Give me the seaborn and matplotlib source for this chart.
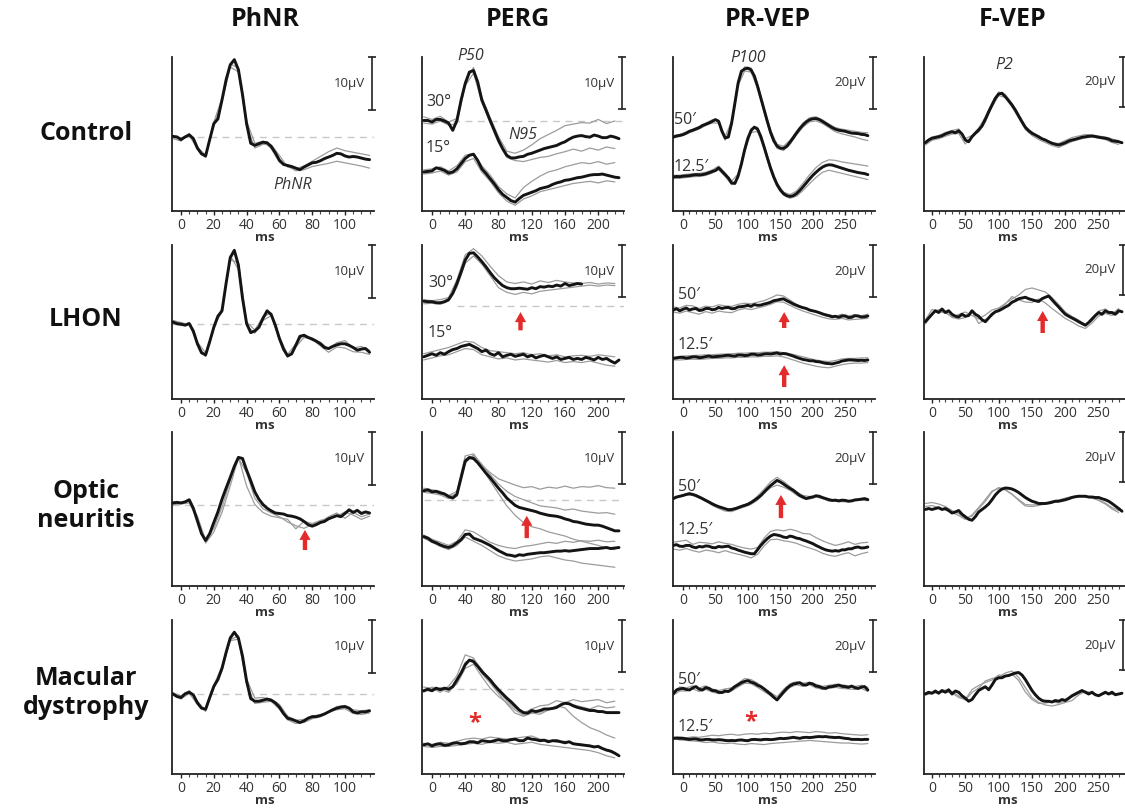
import numpy as np
import matplotlib
matplotlib.use("Agg")
import matplotlib.pyplot as plt
import matplotlib.transforms as mtransforms
import seaborn as sns

sns.set_style("white")
plt.rcParams['font.family'] = ['Open Sans', 'DejaVu Sans']

ROW_LABELS = ["Control", "LHON", "Optic\nneuritis", "Macular\ndystrophy"]
COL_TITLES = ["PhNR", "PERG", "PR-VEP", "F-VEP"]

# ---------------- time grids (ms) ----------------
T_PHNR = np.arange(-5, 115.01, 2.5)     # 49
T_PHNR_G = np.arange(-5, 115.01, 5)     # 25
T_PERG = np.arange(-10, 225.01, 5)      # 48
T_PERG_G = np.arange(-10, 220.01, 10)   # 24
T_PRVEP = np.arange(-15, 285.01, 5)     # 61
T_PRVEP_G = np.arange(-15, 285.01, 10)  # 31
T_FVEP = np.arange(-10, 285.01, 5)      # 60
T_FVEP_G = np.arange(-10, 280.01, 10)   # 30

# ---------------- PhNR (µV) ----------------
PHNR_CONTROL = [0.1, 0.0, -0.5, 0.0, 0.4, -0.3, -2.1, -3.2, -3.6, -0.5,
                2.5, 3.4, 7.0, 10.8, 13.6, 14.6, 12.7, 8.0, 2.5, -1.2,
                -1.6, -1.3, -1.0, -1.1, -1.8, -3.0, -4.4, -5.2, -5.4, -5.6,
                -5.9, -6.2, -5.7, -5.3, -4.9, -4.8, -4.5, -4.1, -3.8, -3.5,
                -3.1, -3.2, -3.6, -3.8, -3.7, -3.8, -4.0, -4.2, -4.3]
PHNR_CONTROL_G1 = [-0.3, -0.8, 0.6, -2.4, -3.9, 2.8, 7.3, 13.8, 13.0, 2.0,
                   -2.1, -1.4, -1.5, -3.5, -5.7, -6.0, -5.5, -4.6, -3.7, -2.8,
                   -2.1, -2.6, -2.9, -3.2, -3.5]
PHNR_CONTROL_G2 = [-0.1, -0.2, 0.2, -2.0, -3.4, 2.2, 6.6, 13.2, 12.3, 3.0,
                   -1.2, -0.8, -2.2, -4.8, -5.5, -6.4, -6.2, -5.6, -5.3, -5.0,
                   -4.6, -4.9, -5.2, -5.5, -5.9]

PHNR_LHON = [0.3, 0.0, -0.1, -0.3, 0.0, -1.4, -3.8, -5.5, -5.9, -3.4,
             -0.7, 1.4, 2.4, 7.6, 12.4, 13.8, 11.0, 4.8, 0.0, -1.7,
             -1.4, -0.7, 1.0, 2.4, 1.7, -0.3, -2.8, -4.8, -6.1, -5.7,
             -4.1, -2.4, -2.2, -2.6, -2.9, -3.3, -3.8, -4.5, -4.7, -4.3,
             -4.0, -3.8, -3.8, -4.1, -4.5, -5.0, -4.8, -4.7, -5.4]
PHNR_LHON_G1 = [0.6, 0.2, -0.2, -3.5, -5.5, -1.0, 3.0, 12.0, 11.5, 0.3,
                -1.2, 1.3, 2.0, -2.5, -5.8, -3.8, -2.0, -3.2, -3.5, -4.8,
                -3.6, -3.2, -4.6, -4.3, -5.0]
PHNR_LHON_G2 = [0.0, -0.4, 0.2, -4.0, -6.2, -0.5, 2.2, 12.8, 10.2, -0.3,
                -1.8, 0.6, 1.5, -3.0, -6.3, -4.4, -2.6, -3.0, -4.2, -5.4,
                -4.4, -4.6, -5.3, -5.4, -5.8]

PHNR_ON = [0.3, 0.4, 0.3, 0.5, 0.9, -0.7, -3.1, -5.5, -6.8, -5.5,
           -3.4, -1.4, 1.0, 3.1, 5.1, 7.2, 8.9, 8.7, 6.5, 4.5,
           2.4, 1.0, 0.0, -0.7, -1.2, -1.6, -1.7, -1.8, -2.1, -2.2,
           -2.4, -2.7, -3.2, -3.8, -4.1, -3.8, -3.4, -3.2, -2.7, -2.4,
           -2.1, -2.3, -1.7, -1.0, -1.5, -1.1, -1.7, -1.4, -1.6]
PHNR_ON_G1 = [0.5, 0.2, 0.6, -2.2, -6.8, -4.5, -0.5, 4.5, 9.0, 3.5,
              0.0, -1.5, -2.2, -2.5, -2.8, -4.6, -3.2, -3.6, -3.0, -2.6,
              -2.2, -1.4, -2.0, -2.8, -2.2]
PHNR_ON_G2 = [0.0, 0.1, 0.3, -2.8, -7.3, -5.2, -1.5, 3.5, 8.8, 6.0,
              1.2, -0.8, -1.6, -2.3, -3.3, -4.0, -4.5, -3.8, -3.3, -2.3,
              -1.6, -2.6, -1.5, -2.3, -1.8]

PHNR_MAC = [0.0, -0.5, -0.7, 0.0, 0.3, -0.2, -1.7, -2.7, -2.9, -0.7,
            1.4, 2.7, 4.8, 7.8, 10.5, 11.6, 10.5, 7.1, 2.4, -0.9,
            -1.4, -1.4, -1.2, -1.0, -1.2, -1.7, -2.5, -3.7, -4.6, -4.8,
            -5.1, -5.4, -5.1, -4.6, -4.3, -4.3, -4.1, -3.8, -3.4, -3.0,
            -2.7, -2.5, -2.4, -2.7, -3.4, -3.6, -3.4, -3.4, -3.2]
PHNR_MAC_G1 = [0.2, -0.4, 0.6, -1.4, -3.2, 1.0, 4.4, 10.2, 10.9, 2.8,
               -0.8, -0.7, -1.0, -2.0, -4.2, -5.0, -4.8, -4.2, -3.9, -3.4,
               -2.4, -2.2, -3.0, -3.2, -3.0]
PHNR_MAC_G2 = [-0.2, -1.0, 0.1, -2.0, -3.3, 1.6, 5.2, 10.0, 10.3, 1.8,
               -1.8, -1.6, -1.4, -2.9, -4.9, -5.6, -5.4, -4.7, -4.3, -3.5,
               -3.0, -2.8, -3.7, -3.9, -3.6]

# ---------------- PERG (µV) ----------------
PERG_CONTROL_30 = [0.1, 0.1, -0.2, 0.3, 0.3, 0.0, -0.4, -1.8, 0.1, 4.0,
                   7.2, 9.4, 9.7, 7.5, 4.0, 2.1, 0.1, -1.8, -3.7, -5.3,
                   -6.6, -7.1, -7.1, -6.9, -6.8, -6.4, -6.2, -5.9, -5.6, -5.3,
                   -5.1, -4.9, -4.7, -4.3, -4.0, -3.5, -3.1, -2.9, -2.8, -3.0,
                   -3.1, -2.7, -2.9, -3.2, -3.2, -2.9, -3.1, -3.4]
PERG_CONTROL_30_G1 = [0.8, 0.3, 0.9, -0.2, 0.5, 7.6, 10.3, 4.6, 0.6, -3.0,
                      -5.8, -6.2, -5.6, -4.6, -3.4, -2.6, -1.8, -0.9, -0.6, -0.3,
                      -0.4, 0.3, -0.5, 0.0]
PERG_CONTROL_30_G2 = [-0.4, -0.6, 0.0, -0.8, -0.5, 6.8, 9.2, 3.6, -0.4, -4.2,
                      -7.0, -7.6, -7.8, -7.4, -7.0, -6.8, -6.3, -5.9, -5.4, -5.8,
                      -5.2, -5.6, -5.0, -5.3]
PERG_CONTROL_15 = [-9.8, -9.7, -9.6, -9.0, -9.2, -9.5, -10.0, -9.8, -9.2, -8.2,
                   -7.2, -6.6, -6.4, -7.6, -9.2, -10.1, -11.1, -12.1, -13.2, -14.1,
                   -14.7, -15.3, -15.6, -14.9, -14.3, -14.0, -13.7, -13.4, -13.0, -12.8,
                   -12.6, -12.2, -11.9, -11.7, -11.4, -11.3, -11.1, -10.9, -10.8, -10.6,
                   -10.4, -10.3, -10.3, -10.2, -10.4, -10.6, -10.8, -10.9]
PERG_CONTROL_15_G1 = [-9.4, -9.2, -8.8, -9.6, -8.6, -6.6, -6.2, -8.6, -10.4, -12.6,
                      -14.0, -14.8, -12.8, -11.6, -10.6, -9.8, -9.4, -8.8, -8.4, -8.0,
                      -8.2, -7.8, -8.3, -8.0]
PERG_CONTROL_15_G2 = [-10.2, -10.0, -9.6, -10.4, -9.8, -7.8, -7.2, -9.8, -11.6, -13.8,
                      -15.4, -16.2, -15.0, -14.4, -13.6, -13.2, -12.8, -12.4, -12.0, -11.8,
                      -11.6, -11.9, -11.5, -11.7]

NAN = float("nan")
PERG_LHON_30 = [0.9, 0.8, 0.8, 0.6, 0.6, 0.8, 1.2, 2.4, 4.3, 6.5,
                8.8, 10.1, 10.2, 9.4, 8.5, 7.5, 6.4, 5.4, 4.6, 3.9,
                3.5, 3.3, 3.3, 3.4, 3.3, 3.2, 3.5, 3.3, 3.7, 3.6,
                3.8, 3.7, 4.0, 3.8, 4.3, 3.9, 4.1, 4.3, 4.2, NAN,
                NAN, NAN, NAN, NAN, NAN, NAN, NAN, NAN]
PERG_LHON_30_G1 = [1.2, 1.0, 1.2, 1.6, 5.0, 9.8, 11.0, 9.6, 7.6, 5.8,
                   4.6, 4.3, 4.6, 4.2, 4.8, 4.5, 4.9, 4.6, 4.4, 4.3,
                   4.5, 4.2, 4.4, 4.3]
PERG_LHON_30_G2 = [0.4, 0.5, 0.3, 0.9, 3.6, 8.2, 9.6, 8.0, 5.8, 3.5,
                   2.6, 2.2, 2.6, 2.3, 2.8, 3.0, 3.2, 3.4, 3.6, 3.8,
                   4.0, 3.8, 4.0, 3.9]
PERG_LHON_15 = [-9.8, -9.5, -9.2, -9.5, -9.0, -9.3, -8.8, -8.4, -8.2, -7.8,
                -7.6, -7.4, -7.8, -8.2, -8.8, -8.5, -9.2, -9.5, -9.0, -9.8,
                -9.5, -9.3, -9.7, -9.5, -9.3, -9.8, -9.5, -10.0, -9.7, -9.5,
                -9.8, -10.1, -9.8, -10.3, -10.1, -9.9, -10.3, -10.1, -10.3, -9.9,
                -10.1, -10.4, -9.9, -10.3, -10.1, -10.6, -11.0, -10.4]
PERG_LHON_15_G1 = [-9.2, -8.8, -8.4, -8.0, -7.4, -6.8, -7.0, -8.0, -8.6, -8.8,
                   -9.0, -9.2, -9.0, -9.4, -9.2, -9.6, -9.4, -9.8, -9.6, -9.5,
                   -9.7, -9.4, -9.6, -9.8]
PERG_LHON_15_G2 = [-10.4, -10.0, -9.6, -9.4, -8.8, -8.2, -8.4, -9.4, -9.8, -10.2,
                   -10.0, -10.4, -10.2, -10.4, -10.6, -10.8, -10.5, -10.9, -10.7, -10.9,
                   -10.6, -11.0, -11.4, -11.6]

PERG_ON_UP = [1.7, 1.9, 1.5, 1.6, 1.3, 1.1, 0.6, 0.3, 1.0, 4.2,
              7.4, 8.1, 7.9, 7.1, 6.1, 5.1, 4.2, 3.2, 2.2, 1.3,
              0.3, -0.4, -1.1, -1.5, -1.7, -1.9, -2.1, -2.3, -2.6, -2.8,
              -3.0, -3.1, -3.2, -3.4, -3.7, -3.9, -4.2, -4.3, -4.5, -4.7,
              -4.8, -4.9, -4.9, -5.1, -5.4, -5.7, -6.0, -6.0]
PERG_ON_UP_G1 = [2.2, 1.9, 1.6, 0.8, 1.6, 8.4, 8.8, 6.6, 5.2, 4.0,
                 3.4, 2.8, 2.3, 2.5, 2.0, 2.4, 2.2, 2.6, 2.2, 2.5,
                 2.4, 2.7, 2.3, 2.2]
PERG_ON_UP_G2 = [1.4, 1.2, 0.9, 0.2, 0.6, 7.8, 8.4, 6.0, 3.6, 1.2,
                 -1.2, -3.0, -4.4, -5.2, -5.6, -6.2, -6.6, -7.0, -7.6, -8.0,
                 -8.4, -8.8, -9.3, -9.6]
PERG_ON_UP_G3 = [1.8, 1.4, 1.2, 0.5, 1.2, 7.0, 8.6, 6.8, 4.8, 3.0,
                 1.6, 0.6, 0.0, -0.6, -1.2, -1.4, -1.6, -2.0, -1.8, -2.2,
                 -2.4, -2.6, -2.5, -2.8]
PERG_ON_LOW = [-7.1, -7.4, -8.0, -8.3, -8.7, -9.0, -9.2, -8.9, -8.3, -7.7,
               -6.7, -6.6, -7.4, -7.7, -8.0, -8.4, -8.8, -9.3, -9.8, -10.2,
               -10.6, -10.7, -10.9, -10.6, -10.7, -10.5, -10.4, -10.3, -10.2, -10.2,
               -10.1, -10.0, -9.9, -9.9, -9.8, -9.9, -9.8, -9.7, -9.6, -9.5,
               -9.4, -9.4, -9.4, -9.3, -9.2, -9.4, -9.3, -9.2]
PERG_ON_LOW_G1 = [-6.8, -7.6, -8.2, -8.8, -8.0, -5.8, -6.2, -7.2, -8.2, -8.8,
                  -9.2, -9.4, -9.0, -8.8, -8.5, -8.2, -8.4, -8.0, -8.2, -7.9,
                  -8.0, -7.8, -8.1, -8.0]
PERG_ON_LOW_G2 = [-7.4, -8.2, -9.0, -9.6, -8.8, -7.2, -8.0, -8.8, -9.8, -10.8,
                  -11.4, -11.8, -11.6, -11.4, -11.0, -10.8, -11.2, -11.6, -11.8, -12.2,
                  -12.4, -12.6, -12.8, -13.0]

PERG_MAC_UP = [-0.3, 0.0, -0.3, 0.2, -0.1, 0.2, 0.0, 0.5, 1.8, 3.1,
               4.7, 5.6, 5.3, 4.4, 3.4, 2.6, 1.8, 0.8, -0.1, -0.9,
               -1.7, -2.4, -3.2, -4.0, -4.5, -4.6, -4.1, -4.3, -4.1, -3.8,
               -3.8, -3.7, -3.5, -3.0, -2.7, -2.8, -3.2, -3.5, -3.7, -3.9,
               -4.1, -4.1, -4.3, -4.3, -4.5, -4.5, -4.5, -4.5]
PERG_MAC_UP_G1 = [0.4, 0.2, -0.6, 0.6, 2.6, 6.6, 6.0, 3.0, 1.2, -0.8,
                  -2.8, -4.6, -5.2, -4.6, -4.8, -4.0, -3.2, -3.6, -5.2, -6.4,
                  -7.4, -8.0, -8.8, -9.4]
PERG_MAC_UP_G2 = [-0.6, 0.4, 0.0, -0.6, 1.2, 5.2, 5.8, 3.8, 1.4, -0.4,
                  -2.2, -3.6, -4.6, -3.8, -3.2, -3.0, -2.2, -2.6, -2.0, -2.4,
                  -2.2, -2.0, -2.6, -2.3]
PERG_MAC_UP_G3 = [-0.2, -0.4, 0.3, -0.2, 1.0, 4.0, 4.8, 2.4, 0.2, -1.4,
                  -2.6, -4.0, -5.0, -4.4, -4.4, -4.0, -3.4, -2.6, -3.0, -3.4,
                  -3.8, -3.2, -3.6, -3.4]
PERG_MAC_LOW = [-10.7, -10.5, -10.9, -10.6, -10.5, -10.8, -10.7, -10.4, -10.3, -10.5,
                -10.4, -10.1, -10.1, -10.3, -9.9, -10.0, -10.1, -9.9, -9.7, -9.9,
                -9.9, -9.7, -9.6, -9.9, -9.9, -9.4, -9.6, -9.7, -9.9, -9.8,
                -10.1, -9.9, -9.9, -10.1, -10.3, -10.1, -10.5, -10.6, -10.7, -10.8,
                -10.9, -11.1, -11.0, -11.4, -11.7, -11.9, -12.3, -12.8]
PERG_MAC_LOW_G1 = [-10.4, -10.6, -10.2, -10.4, -10.0, -9.6, -9.4, -9.6, -9.2, -9.4,
                   -9.6, -9.4, -9.2, -9.0, -9.6, -9.8, -10.2, -10.0, -10.4, -10.6,
                   -10.8, -11.2, -11.8, -12.4]
PERG_MAC_LOW_G2 = [-11.0, -11.2, -11.0, -11.0, -10.8, -10.6, -10.4, -10.6, -10.2, -10.4,
                   -10.2, -10.6, -10.4, -10.2, -10.6, -10.8, -11.0, -11.2, -11.4, -11.6,
                   -11.8, -12.2, -12.8, -13.2]

# ---------------- PR-VEP (µV) ----------------
PRVEP_CONTROL_50 = [0.0, 0.4, 0.6, 0.9, 1.5, 2.2, 2.6, 3.1, 3.6, 4.4,
                    4.9, 5.4, 6.0, 6.7, 6.0, 2.2, -0.4, 0.0, 5.4, 13.0,
                    20.8, 25.3, 26.2, 26.5, 25.8, 23.5, 19.5, 15.0, 10.5, 6.0,
                    1.8, -1.5, -3.5, -4.3, -4.4, -3.6, -2.0, -0.3, 1.5, 3.2,
                    4.6, 5.8, 6.6, 7.0, 7.1, 6.7, 6.0, 5.2, 4.4, 3.6,
                    3.0, 2.6, 2.4, 2.2, 1.8, 1.5, 1.4, 1.3, 1.0, 0.9,
                    0.5]
PRVEP_CONTROL_50_G1 = [0.4, 1.0, 1.9, 3.0, 4.1, 5.3, 6.6, 6.5, 0.2, 6.0,
                       21.6, 27.0, 26.6, 20.4, 11.4, 2.6, -2.8, -3.6, -1.2, 2.2,
                       5.4, 7.4, 7.8, 6.6, 5.0, 3.6, 3.0, 2.6, 2.2, 1.8,
                       1.6]
PRVEP_CONTROL_50_G2 = [-0.4, 0.2, 1.1, 2.1, 3.1, 4.4, 5.4, 5.3, -1.2, 4.6,
                       19.8, 25.4, 25.0, 18.6, 9.6, 1.0, -4.4, -5.2, -2.8, 0.8,
                       3.8, 5.8, 6.2, 5.2, 3.6, 2.0, 1.2, 0.6, 0.0, -0.8,
                       -1.4]
PRVEP_CONTROL_12 = [-15.4, -15.2, -15.3, -15.1, -15.0, -14.9, -14.7, -14.5, -14.6, -14.5,
                    -14.2, -13.8, -13.3, -12.9, -11.9, -13.2, -14.5, -15.8, -17.7, -17.9,
                    -15.0, -10.5, -5.0, -0.5, 2.5, 3.8, 3.0, 0.2, -3.8, -8.0,
                    -12.0, -15.5, -18.3, -20.4, -21.8, -22.6, -22.9, -22.6, -21.8, -20.6,
                    -19.2, -17.7, -16.2, -14.8, -13.6, -12.5, -11.6, -11.0, -10.7, -10.8,
                    -11.2, -11.6, -12.0, -12.4, -12.8, -13.1, -13.4, -13.7, -13.9, -14.1,
                    -14.5]
PRVEP_CONTROL_12_G1 = [-14.8, -14.7, -14.4, -14.1, -14.0, -13.6, -12.7, -11.2, -13.8, -17.0,
                       -14.2, -4.2, 3.3, 3.8, -3.0, -11.2, -17.6, -21.2, -22.2, -20.8,
                       -17.8, -14.6, -11.8, -9.8, -8.8, -9.0, -9.6, -10.0, -10.4, -10.8,
                       -11.2]
PRVEP_CONTROL_12_G2 = [-16.0, -15.9, -15.6, -15.3, -15.2, -14.8, -13.9, -12.6, -15.2, -18.4,
                       -15.8, -5.8, 1.7, 2.2, -4.6, -12.8, -19.0, -22.4, -23.6, -22.8,
                       -20.6, -18.0, -15.6, -13.6, -12.8, -13.4, -14.0, -14.6, -15.2, -15.8,
                       -16.4]

PRVEP_LHON_50 = [0.0, 0.5, -0.3, 0.3, 0.8, 0.0, 0.4, 0.6, -0.2, 0.0,
                 0.6, 0.6, 0.1, 0.3, 1.0, 0.6, 0.9, 1.0, 0.5, 0.6,
                 1.2, 1.3, 1.5, 1.8, 1.4, 2.1, 1.8, 1.9, 2.3, 2.6,
                 3.0, 3.6, 3.8, 4.1, 4.3, 3.6, 3.0, 2.3, 1.8, 1.3,
                 0.9, 0.6, 0.0, -0.3, -0.6, -1.0, -1.5, -1.9, -2.2, -2.6,
                 -2.4, -2.8, -2.3, -2.3, -2.9, -2.8, -2.2, -2.3, -2.7, -2.6,
                 -2.3]
PRVEP_LHON_50_G1 = [1.2, 0.8, 1.8, 1.6, 0.6, 1.5, 1.2, 2.0, 1.6, 1.4,
                    2.2, 2.6, 2.4, 3.0, 3.6, 4.6, 5.8, 5.4, 3.8, 2.2,
                    1.0, 0.2, -0.6, -1.2, -1.8, -2.4, -1.6, -2.2, -1.8, -2.2,
                    -1.6]
PRVEP_LHON_50_G2 = [-0.8, -1.2, -0.4, -1.0, -1.6, -0.6, -1.2, -0.4, -0.8, -1.0,
                    0.0, 0.6, 0.2, 0.8, 1.4, 2.2, 3.2, 3.0, 1.8, 0.6,
                    -0.4, -1.2, -2.0, -2.8, -3.4, -3.6, -3.2, -3.8, -3.6, -3.4,
                    -3.2]
PRVEP_LHON_12 = [-18.6, -18.4, -18.2, -18.2, -18.5, -18.3, -18.0, -18.0, -18.3, -18.2,
                 -17.9, -17.7, -18.0, -17.9, -17.8, -17.7, -17.5, -17.4, -17.6, -17.7,
                 -17.3, -17.3, -17.5, -17.4, -17.0, -17.0, -17.3, -17.2, -16.9, -16.8,
                 -16.9, -16.7, -16.5, -16.9, -16.7, -16.9, -17.3, -17.7, -18.2, -18.6,
                 -19.0, -19.2, -19.5, -19.5, -19.8, -19.9, -20.2, -20.5, -20.6, -20.7,
                 -20.4, -20.1, -19.6, -19.4, -19.2, -19.2, -19.3, -19.4, -19.3, -19.4,
                 -19.2]
PRVEP_LHON_12_G1 = [-18.2, -17.8, -17.6, -17.5, -17.4, -17.2, -17.2, -17.0, -16.9, -16.8,
                    -16.6, -16.6, -16.4, -16.4, -16.2, -16.2, -16.0, -16.4, -16.8, -17.4,
                    -18.0, -18.6, -19.2, -19.6, -19.8, -19.4, -18.8, -18.6, -18.6, -18.4,
                    -18.4]
PRVEP_LHON_12_G2 = [-19.2, -19.2, -19.0, -18.9, -19.0, -18.8, -18.6, -18.6, -18.4, -18.4,
                    -18.2, -18.2, -18.0, -18.0, -17.8, -17.8, -17.6, -18.0, -18.8, -19.6,
                    -20.4, -21.0, -21.6, -22.0, -22.2, -21.6, -21.0, -20.6, -20.4, -20.4,
                    -20.2]

PRVEP_ON_50 = [-0.6, 0.0, 0.3, 0.6, 1.0, 1.3, 1.0, 0.6, 0.0, -0.6,
               -1.3, -1.9, -2.6, -3.2, -3.7, -4.1, -4.5, -4.9, -4.8, -4.5,
               -4.1, -3.6, -3.2, -2.8, -2.1, -1.3, -0.4, 0.6, 1.9, 3.2,
               4.4, 5.4, 6.4, 5.8, 5.0, 4.1, 3.3, 2.6, 1.6, 0.6,
               0.0, -0.6, -0.2, 0.0, 0.5, 0.3, -0.2, -0.6, -1.0, -1.3,
               -1.2, -1.5, -1.2, -1.3, -1.6, -1.5, -1.1, -1.0, -0.8, -0.6,
               -1.0]
PRVEP_ON_50_G1 = [-0.4, 0.4, 1.2, 1.0, 0.2, -1.0, -2.4, -3.6, -4.4, -4.6,
                  -3.8, -3.0, -1.8, 0.4, 3.0, 5.8, 7.6, 6.0, 4.0, 2.0,
                  0.6, 0.2, 0.4, -0.2, -1.0, -1.0, -1.2, -1.4, -1.0, -0.8,
                  -0.8]
PRVEP_ON_50_G2 = [-0.8, 0.1, 0.8, 0.6, -0.4, -1.6, -3.2, -4.4, -5.4, -5.6,
                  -4.6, -3.8, -2.8, -1.2, 1.4, 3.6, 4.6, 3.8, 2.6, 0.8,
                  -0.6, -0.8, 0.0, -0.6, -1.6, -1.6, -1.8, -1.8, -1.4, -1.2,
                  -1.4]
PRVEP_ON_12 = [-18.6, -18.3, -18.9, -19.0, -18.6, -18.6, -19.2, -19.5, -19.0, -19.2,
               -18.8, -18.9, -19.4, -19.5, -19.0, -19.2, -19.0, -18.9, -19.6, -19.9,
               -20.4, -20.8, -21.2, -21.5, -21.8, -21.8, -20.2, -18.6, -17.2, -16.0,
               -15.0, -14.4, -14.6, -14.9, -15.4, -15.6, -15.0, -15.3, -15.8, -16.0,
               -16.5, -16.9, -17.4, -17.9, -18.6, -19.2, -19.8, -20.3, -20.6, -20.8,
               -20.6, -20.8, -20.3, -20.3, -19.9, -19.9, -19.4, -19.2, -19.6, -19.5,
               -19.2]
PRVEP_ON_12_G1 = [-17.4, -17.0, -16.6, -18.2, -17.4, -17.6, -18.0, -17.2, -17.8, -18.2,
                  -19.0, -19.6, -20.0, -19.4, -15.8, -13.2, -12.6, -13.0, -12.4, -13.0,
                  -14.0, -14.2, -15.6, -16.8, -17.8, -18.6, -18.0, -17.2, -18.2, -17.6,
                  -17.4]
PRVEP_ON_12_G2 = [-20.0, -20.4, -19.8, -20.6, -21.2, -20.4, -20.8, -21.4, -20.6, -21.4,
                  -22.0, -22.6, -23.4, -22.0, -18.8, -16.4, -16.2, -16.8, -17.2, -17.8,
                  -18.8, -19.6, -20.4, -21.6, -22.4, -22.8, -22.0, -21.4, -22.6, -21.8,
                  -21.2]

PRVEP_MAC_50 = [-1.5, 0.0, 0.4, 0.6, 0.2, 0.0, 0.8, 1.3, 0.3, 0.0,
                0.9, 0.6, -0.2, -0.3, -0.9, -1.0, -0.4, -0.6, 0.3, 1.3,
                2.0, 2.8, 3.3, 3.6, 3.0, 2.6, 1.8, 1.3, 0.4, -0.6,
                -1.6, -2.8, -3.8, -2.3, -0.8, 0.6, 1.6, 2.3, 2.5, 2.8,
                2.0, 1.9, 2.6, 2.3, 1.5, 1.3, 0.8, 0.6, 1.2, 1.3,
                1.6, 1.9, 1.4, 1.3, 1.0, 1.5, 0.9, 0.6, 1.1, 1.3,
                0.0]
PRVEP_MAC_50_G1 = [-0.8, 1.2, 0.8, 1.6, 0.8, 1.6, 0.4, -0.2, 0.4, 0.8,
                   2.6, 4.4, 4.0, 2.6, 0.8, -1.0, -2.6, 0.2, 2.4, 3.2,
                   2.6, 3.0, 2.2, 1.4, 1.8, 2.2, 2.0, 1.6, 1.4, 1.8,
                   1.0]
PRVEP_MAC_50_G2 = [-2.0, -0.4, -0.4, 0.4, -0.6, 0.2, -0.8, -1.4, -1.0, -0.4,
                   1.2, 2.6, 2.4, 1.0, -0.6, -2.2, -4.2, -1.4, 1.0, 2.0,
                   1.4, 2.0, 0.8, 0.2, 0.6, 1.0, 0.6, 0.4, 0.2, 0.6,
                   -0.6]
PRVEP_MAC_12 = [-18.6, -18.5, -18.6, -18.6, -18.8, -19.0, -18.8, -18.8, -19.1, -19.2,
                -19.0, -19.0, -19.2, -19.2, -19.1, -19.2, -19.4, -19.5, -19.4, -19.5,
                -19.3, -19.2, -19.4, -19.5, -19.1, -19.0, -19.1, -19.2, -19.0, -19.0,
                -19.1, -19.0, -18.8, -18.6, -18.7, -18.6, -18.4, -18.2, -18.4, -18.6,
                -18.3, -18.2, -18.3, -18.2, -18.0, -17.9, -18.0, -17.9, -18.1, -18.2,
                -18.3, -18.2, -18.4, -18.6, -18.7, -19.0, -19.0, -19.0, -19.1, -19.0,
                -19.0]
PRVEP_MAC_12_G1 = [-18.2, -18.0, -18.4, -18.0, -18.2, -17.8, -17.4, -17.6, -17.2, -17.0,
                   -17.4, -17.0, -16.8, -17.0, -16.6, -16.8, -16.4, -16.2, -16.4, -16.0,
                   -16.2, -16.4, -16.0, -16.2, -16.6, -16.4, -16.8, -17.0, -17.2, -17.4,
                   -17.2]
PRVEP_MAC_12_G2 = [-18.8, -19.2, -19.4, -19.6, -19.8, -20.2, -20.0, -20.4, -20.6, -20.4,
                   -20.8, -21.0, -20.6, -20.8, -21.0, -20.6, -20.4, -20.2, -20.0, -19.8,
                   -19.6, -19.4, -19.6, -19.8, -20.0, -20.2, -20.4, -20.4, -20.6, -20.8,
                   -20.6]

# ---------------- F-VEP (µV) ----------------
FVEP_CONTROL = [-0.7, 0.4, 1.1, 1.4, 1.7, 2.1, 2.8, 3.3, 3.7, 3.3,
                4.1, 2.8, 0.4, -0.3, 1.7, 3.1, 4.4, 6.0, 8.7, 11.7,
                14.4, 17.1, 18.8, 19.1, 17.7, 16.1, 14.4, 12.4, 10.0, 7.7,
                5.5, 4.1, 3.1, 2.4, 1.7, 0.9, 0.4, -0.3, -0.9, -1.3,
                -1.6, -1.2, -0.7, 0.0, 0.4, 0.7, 1.1, 1.5, 1.7, 1.9,
                2.0, 1.8, 1.5, 1.3, 1.1, 0.8, 0.1, -0.1, -0.3, -0.7]
FVEP_CONTROL_G1 = [-1.6, 0.3, 0.9, 1.9, 2.8, 3.0, -1.2, 2.2, 3.6, 7.6,
                   13.6, 18.2, 17.4, 13.6, 9.2, 4.6, 2.2, 0.6, -0.6, -1.8,
                   -2.6, -1.4, -0.2, 0.6, 1.2, 1.6, 1.2, 0.6, -0.6, -1.4]
FVEP_CONTROL_G2 = [-0.2, 1.6, 2.2, 3.4, 4.2, 4.8, 1.0, 2.2, 5.2, 9.6,
                   15.2, 19.6, 18.6, 15.0, 10.6, 5.8, 3.6, 1.2, 0.2, -0.8,
                   -1.0, 0.2, 1.4, 2.0, 2.6, 2.4, 2.0, 1.6, 0.8, 0.2]

FVEP_LHON = [-1.5, 0.0, 1.5, 2.9, 2.2, 3.6, 2.2, 2.9, 1.5, 0.7,
             0.4, 1.5, 0.7, 1.0, 2.9, 1.5, 0.7, -0.7, -1.5, 0.0,
             1.5, 2.5, 2.9, 3.6, 4.4, 5.1, 6.3, 6.9, 7.7, 8.0,
             8.3, 7.7, 7.3, 6.9, 6.6, 7.7, 8.3, 8.8, 7.3, 5.8,
             4.4, 2.9, 1.5, 0.7, 0.0, -0.7, -1.5, -2.2, -2.9, -1.8,
             -0.4, 1.0, 2.2, 1.5, 2.9, 2.2, 2.2, 1.5, 2.9, 2.5]
FVEP_LHON_G1 = [-0.8, 3.4, 2.6, 2.0, 0.6, 1.4, 2.4, 1.0, -0.4, 1.2,
                3.2, 4.0, 5.8, 7.6, 9.2, 11.4, 12.0, 11.2, 10.4, 8.2,
                5.4, 2.4, 0.6, -0.8, -2.6, -1.2, 2.8, 3.6, 1.6, 3.8]
FVEP_LHON_G2 = [-2.4, 1.8, 3.4, 2.6, 0.2, -0.4, 0.2, 2.6, -2.2, -0.6,
                0.8, 3.6, 5.6, 8.6, 7.2, 6.4, 6.2, 7.6, 6.0, 3.8,
                1.8, -0.2, -1.6, -3.2, -4.2, -2.0, 0.8, 1.8, 1.0, 2.0]

FVEP_ON = [0.0, 0.4, 0.0, 0.4, 0.7, 0.0, 0.4, -0.4, -1.4, -1.0,
           -0.4, -1.9, -2.9, -3.9, -4.3, -2.9, -1.0, 0.0, 1.0, 2.2,
           3.9, 5.8, 7.2, 8.2, 8.6, 8.5, 8.2, 7.6, 6.8, 5.8,
           4.8, 4.0, 3.3, 2.9, 2.4, 2.4, 2.4, 2.6, 2.9, 3.3,
           3.3, 3.6, 3.9, 4.3, 4.8, 5.1, 5.3, 5.3, 5.3, 5.0,
           5.0, 4.8, 4.8, 4.3, 3.9, 3.3, 2.4, 1.4, 0.4, -0.7]
FVEP_ON_G1 = [2.4, 2.8, 2.2, 1.2, -0.4, -1.6, -3.6, -2.6, 0.4, 3.2,
              7.0, 8.8, 8.0, 6.2, 3.6, 1.4, 1.2, 1.6, 2.2, 2.8,
              3.2, 4.0, 4.8, 5.2, 5.0, 4.6, 3.6, 2.2, 0.2, -1.2]
FVEP_ON_G2 = [1.2, 1.6, 0.8, -0.2, -1.2, -2.4, -4.0, -2.2, 0.8, 4.0,
              7.4, 8.4, 7.8, 6.0, 4.0, 2.0, 1.8, 2.0, 2.6, 3.4,
              3.8, 4.6, 5.2, 5.6, 5.4, 4.8, 3.8, 2.6, 0.8, -0.4]

FVEP_MAC = [0.0, 0.7, 0.3, 1.2, 0.3, 1.4, 0.7, 1.7, 0.0, 1.2,
            0.7, -0.7, -1.7, -2.9, -2.2, -0.3, 1.4, 2.2, 2.9, 1.7,
            3.6, 5.8, 6.5, 6.5, 7.2, 7.4, 7.9, 8.4, 8.6, 7.6,
            5.8, 3.6, 1.4, -0.3, -1.7, -2.6, -2.9, -2.9, -3.2, -2.6,
            -2.9, -2.2, -2.6, -1.7, -0.7, 0.0, 0.7, 1.4, 0.7, 0.0,
            0.7, -0.3, -0.7, 0.0, 0.7, 0.0, 0.7, -0.3, 0.0, 0.3]
FVEP_MAC_G1 = [0.4, 0.6, 1.0, 1.6, 1.0, -0.8, -2.4, 0.6, 2.4, 5.2,
               6.2, 6.8, 8.4, 9.2, 6.6, 2.6, -1.4, -3.4, -4.4, -4.8,
               -4.2, -3.4, -2.6, -0.4, 1.2, 0.4, -0.6, 0.2, 0.4, -0.2]
FVEP_MAC_G2 = [-0.4, 0.2, 0.6, 0.8, 0.4, -1.4, -2.2, 1.8, 3.4, 4.6,
               5.6, 7.6, 7.2, 8.0, 5.4, 0.8, -2.2, -3.8, -3.6, -3.2,
               -3.6, -2.8, -1.2, 0.2, 1.0, 0.2, -0.8, 0.4, -0.2, 0.2]

# ---------------- panel description ----------------
PANELS = {
    (0, 0): [(PHNR_CONTROL, [PHNR_CONTROL_G1, PHNR_CONTROL_G2])],
    (1, 0): [(PHNR_LHON, [PHNR_LHON_G1, PHNR_LHON_G2])],
    (2, 0): [(PHNR_ON, [PHNR_ON_G1, PHNR_ON_G2])],
    (3, 0): [(PHNR_MAC, [PHNR_MAC_G1, PHNR_MAC_G2])],
    (0, 1): [(PERG_CONTROL_30, [PERG_CONTROL_30_G1, PERG_CONTROL_30_G2]),
             (PERG_CONTROL_15, [PERG_CONTROL_15_G1, PERG_CONTROL_15_G2])],
    (1, 1): [(PERG_LHON_30, [PERG_LHON_30_G1, PERG_LHON_30_G2]),
             (PERG_LHON_15, [PERG_LHON_15_G1, PERG_LHON_15_G2])],
    (2, 1): [(PERG_ON_UP, [PERG_ON_UP_G1, PERG_ON_UP_G2, PERG_ON_UP_G3]),
             (PERG_ON_LOW, [PERG_ON_LOW_G1, PERG_ON_LOW_G2])],
    (3, 1): [(PERG_MAC_UP, [PERG_MAC_UP_G1, PERG_MAC_UP_G2, PERG_MAC_UP_G3]),
             (PERG_MAC_LOW, [PERG_MAC_LOW_G1, PERG_MAC_LOW_G2])],
    (0, 2): [(PRVEP_CONTROL_50, [PRVEP_CONTROL_50_G1, PRVEP_CONTROL_50_G2]),
             (PRVEP_CONTROL_12, [PRVEP_CONTROL_12_G1, PRVEP_CONTROL_12_G2])],
    (1, 2): [(PRVEP_LHON_50, [PRVEP_LHON_50_G1, PRVEP_LHON_50_G2]),
             (PRVEP_LHON_12, [PRVEP_LHON_12_G1, PRVEP_LHON_12_G2])],
    (2, 2): [(PRVEP_ON_50, [PRVEP_ON_50_G1, PRVEP_ON_50_G2]),
             (PRVEP_ON_12, [PRVEP_ON_12_G1, PRVEP_ON_12_G2])],
    (3, 2): [(PRVEP_MAC_50, [PRVEP_MAC_50_G1, PRVEP_MAC_50_G2]),
             (PRVEP_MAC_12, [PRVEP_MAC_12_G1, PRVEP_MAC_12_G2])],
    (0, 3): [(FVEP_CONTROL, [FVEP_CONTROL_G1, FVEP_CONTROL_G2])],
    (1, 3): [(FVEP_LHON, [FVEP_LHON_G1, FVEP_LHON_G2])],
    (2, 3): [(FVEP_ON, [FVEP_ON_G1, FVEP_ON_G2])],
    (3, 3): [(FVEP_MAC, [FVEP_MAC_G1, FVEP_MAC_G2])],
}

COL_TIME = [(T_PHNR, T_PHNR_G), (T_PERG, T_PERG_G), (T_PRVEP, T_PRVEP_G), (T_FVEP, T_FVEP_G)]
COL_XLIM = [(-5.5, 117.7), (-12, 231), (-15.4, 296), (-12, 289.5)]
COL_MAJOR = [[0, 20, 40, 60, 80, 100], [0, 40, 80, 120, 160, 200],
             [0, 50, 100, 150, 200, 250], [0, 50, 100, 150, 200, 250]]
COL_MINOR_STEP = [5, 10, 10, 10]
COL_MS_X = [51, 104, 130, 114]
COL_SCALE = [10, 10, 20, 20]
YLIMS = [
    [(-14.0, 15.1), (-17.3, 12.3), (-28.5, 30.8), (-28.0, 33.6)],
    [(-14.2, 14.8), (-17.9, 11.7), (-34.2, 25.0), (-32.4, 29.2)],
    [(-15.4, 13.7), (-16.6, 13.0), (-34.2, 25.0), (-30.6, 31.0)],
    [(-15.1, 13.9), (-16.3, 13.3), (-32.3, 26.9), (-32.0, 29.6)],
]
DASH_START = {0: [-5.5, -5.5, -5.5, -5.5], 1: [10, 30, -10, 30]}

LABELS = {
    (0, 0): [("PhNR", 68, -9.1, "it")],
    (0, 1): [("30°", -7.2, 3.7, "deg"), ("15°", -7.2, -5.2, "deg"),
             ("P50", 47, 12.4, "it"), ("N95", 109, -2.7, "it")],
    (0, 2): [("50′", -14.5, 6.5, "deg"), ("12.5′", -14.5, -11.5, "deg"),
             ("P100", 100, 30.4, "it")],
    (0, 3): [("P2", 108, 30.4, "it")],
    (1, 1): [("30°", -5, 4.4, "deg"), ("15°", -5, -5.3, "deg")],
    (1, 2): [("50′", -8, 5.8, "deg"), ("12.5′", -8, -13.5, "deg")],
    (2, 2): [("50′", -8, 3.8, "deg"), ("12.5′", -8, -12.7, "deg")],
    (3, 2): [("50′", -8, 3.8, "deg"), ("12.5′", -8, -14.2, "deg")],
}
ARROWS = {
    (1, 1): [(106.5, -4.7, -1.2)],
    (1, 2): [(156, -6.9, -0.8), (156, -29.6, -21.2)],
    (1, 3): [(166, -6.0, 2.8)],
    (2, 0): [(75.6, -8.6, -4.8)],
    (2, 1): [(114, -7.4, -3.1)],
    (2, 2): [(151, -8.1, 0.8)],
}
ASTERISKS = {(3, 1): [(52, -6.5)], (3, 2): [(105, -12.3)]}

# ---------------- layout (pixels of the 1125 x 808 canvas) ----------------
W, H = 1125, 808
COL_LEFT = [172, 422, 673, 924]
COL_W = [202, 202, 202, 201]
ROW_TOP = [57, 245, 432, 620]
AX_H = 154

BLACK = "#141414"
GREY = "#9c9c9c"
RED = "#e32b2b"
TXT = "#333333"

fig = plt.figure(figsize=(W / 100, H / 100), dpi=100)

for r in range(4):
    for c in range(4):
        ax = fig.add_axes([COL_LEFT[c] / W, 1 - (ROW_TOP[r] + AX_H) / H,
                           COL_W[c] / W, AX_H / H])
        t, tg = COL_TIME[c]
        ylo, yhi = YLIMS[r][c]
        if c in DASH_START:
            ax.hlines(0, DASH_START[c][r], COL_XLIM[c][1], colors="#c8c8c8",
                      linestyles=(0, (5, 4)), lw=1.0, zorder=1)
        for black, greys in PANELS[(r, c)]:
            for g in greys:
                if len(g) != len(tg):
                    raise ValueError(f"grey length {len(g)} != {len(tg)} in panel {(r, c)}")
                sns.lineplot(x=tg, y=g, ax=ax, color=GREY, lw=0.9, zorder=2)
            if len(black) != len(t):
                raise ValueError(f"black length {len(black)} != {len(t)} in panel {(r, c)}")
            sns.lineplot(x=t, y=black, ax=ax, color=BLACK, lw=2.1, zorder=3)

        ax.set_xlim(*COL_XLIM[c])
        ax.set_ylim(ylo, yhi)
        ax.set_xlabel("")
        ax.set_ylabel("")
        for sp in ["top", "right"]:
            ax.spines[sp].set_visible(False)
        for sp in ["left", "bottom"]:
            ax.spines[sp].set_linewidth(1.3)
            ax.spines[sp].set_color("#222222")
        ax.set_yticks([])
        ax.set_xticks(COL_MAJOR[c])
        ax.set_xticks(np.arange(COL_MAJOR[c][0], COL_XLIM[c][1], COL_MINOR_STEP[c]), minor=True)
        ax.tick_params(axis="x", which="major", bottom=True, length=3, width=1.0,
                       pad=2, labelsize=10, colors="#222222", labelcolor=TXT)
        ax.tick_params(axis="x", which="minor", bottom=True, length=2, width=0.8,
                       colors="#444444")

        tr = mtransforms.blended_transform_factory(ax.transData, ax.transAxes)
        ax.text(COL_MS_X[c], -0.17, "ms", transform=tr, ha="center", va="center",
                fontsize=9.5, fontweight="bold", color=TXT)

        # scale bar
        trs = mtransforms.blended_transform_factory(ax.transAxes, ax.transData)
        top = yhi
        bot = yhi - COL_SCALE[c]
        ax.plot([0.99, 0.99], [bot, top], transform=trs, color="#222222", lw=1.2,
                marker="_", ms=6, mew=1.2, clip_on=False, zorder=5)
        ax.text(0.955, (top + bot) / 2, f"{COL_SCALE[c]}µV", transform=trs,
                ha="right", va="center", fontsize=9.5, color=TXT)

        for txt, tx, ty, style in LABELS.get((r, c), []):
            if style == "it":
                ax.text(tx, ty, txt, ha="center", va="center", fontsize=11.5,
                        style="italic", color=TXT, clip_on=False, zorder=6)
            else:
                ax.text(tx, ty, txt, ha="left", va="center", fontsize=11.5,
                        color=TXT, clip_on=False, zorder=6)

        for tx, tail, tip in ARROWS.get((r, c), []):
            ax.annotate("", xy=(tx, tip), xytext=(tx, tail),
                        arrowprops=dict(arrowstyle="simple,head_length=0.8,head_width=0.9,tail_width=0.35",
                                        color=RED, lw=0, shrinkA=0, shrinkB=0,
                                        mutation_scale=9), zorder=7)
        for tx, ty in ASTERISKS.get((r, c), []):
            ax.text(tx, ty, "*", ha="center", va="center", fontsize=17,
                    fontweight="bold", color=RED, zorder=7)

# column titles
COL_TITLE_X = [265, 518, 768, 1013]
for c, name in enumerate(COL_TITLES):
    fig.text(COL_TITLE_X[c] / W, 1 - 19 / H, name, ha="center", va="center",
             fontsize=18, fontweight="bold", color="#111111")

# row labels
ROW_LABEL_Y = [133, 320, 506, 693]
for r, name in enumerate(ROW_LABELS):
    fig.text(86 / W, 1 - ROW_LABEL_Y[r] / H, name, ha="center", va="center",
             fontsize=18, fontweight="bold", color="#111111", linespacing=1.25)

fig.savefig("out.png", dpi=100, facecolor="white")
